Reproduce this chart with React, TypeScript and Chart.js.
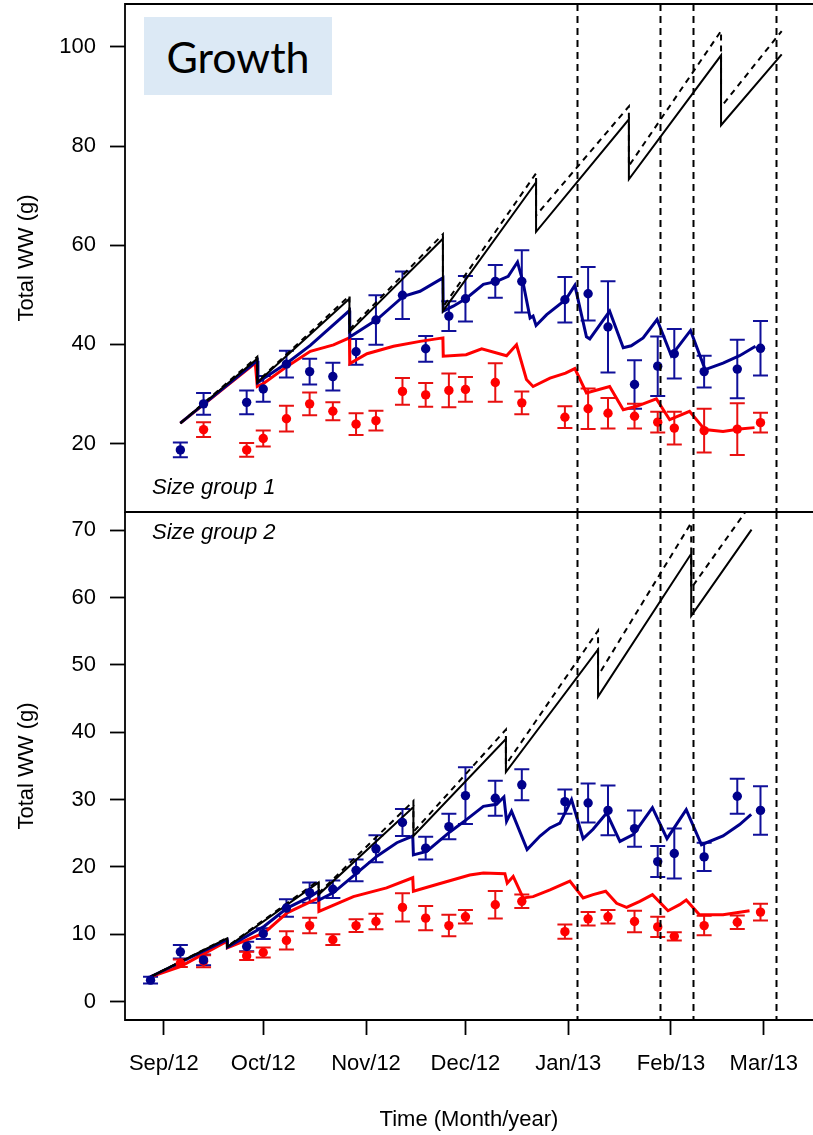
import React, { useEffect, useRef } from "react";
import { Chart, registerables } from "chart.js";
Chart.register(...registerables);

// ---------- axes ----------
const tickDays = [0, 30, 61, 91, 122, 153, 181]; // days since 1 Sep 2012
const tickLabels = ["Sep/12", "Oct/12", "Nov/12", "Dec/12", "Jan/13", "Feb/13", "Mar/13"];
const vlineDays = [124.5, 149.6, 159.6, 184.6];
const yTicks1 = [20, 40, 60, 80, 100];
const yTicks2 = [0, 10, 20, 30, 40, 50, 60, 70];

// ---------- Size group 1 observations ----------
const obsDays1 = [5, 12, 25, 30, 37, 44, 51, 58, 64, 72, 79, 86, 91, 100, 108, 121, 128, 134, 142, 149, 154, 163, 173, 180];
const blue1 = [18.7, 28.0, 28.3, 31.0, 36.0, 34.5, 33.5, 38.5, 44.9, 49.9, 39.1, 45.7, 49.2, 52.7, 52.7, 49.0, 50.2, 43.5, 31.9, 35.6, 38.1, 34.5, 35.0, 39.2];
const blue1Err = [1.5, 2.2, 2.4, 2.6, 2.7, 2.6, 2.8, 2.6, 5.0, 4.8, 2.6, 3.0, 4.6, 3.3, 6.3, 4.6, 5.4, 9.2, 4.9, 6.0, 5.0, 3.2, 5.9, 5.5];
const red1 = [null, 22.8, 18.7, 21.0, 25.0, 28.0, 26.5, 23.9, 24.6, 30.5, 29.8, 30.7, 30.9, 32.3, 28.2, 25.3, 27.0, 26.1, 25.5, 24.3, 23.1, 22.6, 22.9, 24.2];
const red1Err = [null, 1.5, 1.4, 1.6, 2.6, 2.3, 1.8, 2.2, 2.0, 2.7, 2.4, 3.4, 2.5, 3.9, 2.3, 2.2, 4.1, 3.1, 2.5, 2.1, 3.3, 4.4, 5.2, 2.0];

// ---------- Size group 1 model lines ----------
const black1Days = [5, 28.2, 28.2, 56, 56, 84.2, 84.2, 112.3, 112.3, 140.3, 140.3, 168.1, 168.1, 186.4];
const black1Vals = [24.1, 37.1, 32.3, 49.2, 42.5, 61.3, 46.7, 72.7, 62.7, 85.4, 73.3, 98.3, 84.2, 98.5];
const blackDash1Vals = [24.1, 37.5, 32.5, 49.8, 43.0, 62.2, 47.5, 74.5, 66.0, 88.0, 76.0, 103.2, 87.9, 103.2];
const blueLine1Days = [5, 28.2, 28.4, 30.3, 37.3, 44.2, 56, 56.1, 64.3, 72.3, 77.3, 84.2, 84.3, 87.3, 91.3, 96.4, 100.4, 103.9, 106.7, 108.3, 110.5, 111.4, 112.3, 115.5, 121.2, 124, 127.5, 128.5, 134.5, 138.6, 141, 144.6, 148.8, 153.1, 158.9, 163.3, 168.7, 173.7, 178.5];
const blueLine1Vals = [24.1, 36.7, 32.3, 33.2, 36.3, 39.8, 46.8, 41.5, 45.0, 49.7, 50.7, 53.4, 46.7, 47.7, 49.3, 52.1, 52.7, 53.7, 56.6, 52.7, 45.3, 45.7, 43.8, 46.0, 49.0, 51.9, 41.5, 41.1, 46.7, 39.3, 39.7, 41.3, 45.0, 37.7, 42.8, 34.9, 36.2, 37.7, 39.6];
const redLine1Days = [5, 27.6, 28.2, 30.3, 37.3, 44.2, 51.2, 56, 56.1, 61.3, 69.3, 77.3, 84.2, 84.3, 91.2, 95.9, 103.4, 106.4, 109.4, 111.4, 116.5, 121.2, 124, 127.5, 134.5, 138.6, 142.6, 148.6, 152.6, 158.6, 163.2, 168.7, 173.7, 178.2];
const redLine1Vals = [24.1, 36.2, 31.5, 32.2, 35.6, 38.6, 39.9, 41.3, 36.1, 38.1, 39.6, 40.6, 41.3, 37.6, 37.9, 39.1, 37.7, 39.9, 32.9, 31.5, 33.2, 34.2, 35.1, 30.2, 31.5, 26.8, 27.5, 29.0, 24.8, 26.5, 22.8, 22.4, 22.9, 23.2];

// ---------- Size group 2 observations ----------
const obsDays2 = [-4, 5, 12, 25, 30, 37, 44, 51, 58, 64, 72, 79, 86, 91, 100, 108, 121, 128, 134, 142, 149, 154, 163, 173, 180];
const blue2 = [3.2, 7.4, 6.2, 8.2, 10.1, 13.9, 16.2, 16.7, 19.5, 22.7, 26.6, 22.8, 26.0, 30.6, 30.2, 32.2, 29.7, 29.5, 28.4, 25.7, 20.8, 22.0, 21.5, 30.5, 28.4];
const blue2Err = [0.5, 1.0, 0.8, 0.7, 0.8, 1.3, 1.5, 1.3, 1.6, 2.0, 2.0, 1.7, 1.9, 4.2, 2.6, 2.3, 1.8, 2.9, 3.7, 2.7, 2.3, 3.7, 2.1, 2.6, 3.6];
const red2 = [null, 5.7, 6.0, 6.8, 7.3, 9.1, 11.3, 9.2, 11.3, 11.9, 14.0, 12.4, 11.3, 12.6, 14.4, 14.9, 10.4, 12.3, 12.6, 11.9, 11.1, 9.7, 11.3, 11.8, 13.3];
const red2Err = [null, 0.55, 0.9, 0.6, 0.75, 1.35, 1.15, 0.8, 0.95, 1.15, 2.1, 1.8, 1.6, 1.0, 2.05, 1.0, 1.05, 1.0, 1.0, 1.6, 1.5, 0.6, 1.45, 1.0, 1.25];

// ---------- Size group 2 model lines ----------
const black2Days = [-4, 19.1, 19.1, 46.7, 46.7, 75.3, 75.3, 103.2, 103.2, 131, 131, 159.1, 159.1, 177.3];
const black2Vals = [3.7, 9.4, 8.1, 17.7, 15.9, 28.9, 24.6, 39.0, 34.1, 52.3, 45.3, 66.5, 57.3, 70.1];
const blackDash2Vals = [3.7, 9.5, 8.2, 18.0, 16.1, 29.8, 25.2, 40.4, 35.2, 55.1, 48.4, 71.1, 61.4, 74.0];
const blueLine2Days = [-4, 19.1, 19.2, 30.3, 37.2, 44.2, 46.7, 46.8, 51.2, 58.2, 64.3, 70.3, 75.1, 75.3, 79.3, 86.3, 91.2, 96.4, 100.4, 102.6, 103.4, 104.9, 109.6, 113.5, 116.5, 119.5, 122, 123, 126.5, 129.5, 133.6, 137.6, 141.6, 147.4, 151.8, 157.6, 162.2, 168.7, 173.7, 177.2];
const blueLine2Vals = [3.7, 9.2, 8.1, 11.2, 13.9, 15.6, 16.4, 15.1, 16.2, 19.1, 21.6, 23.6, 24.6, 21.8, 22.3, 25.2, 27.0, 29.0, 29.3, 30.4, 26.8, 28.3, 22.6, 24.6, 25.8, 26.5, 29.0, 30.0, 24.2, 25.6, 28.0, 23.8, 24.8, 28.8, 24.2, 28.5, 23.3, 24.6, 26.3, 27.8];
const redLine2Days = [-4, 5, 19.1, 19.2, 30.3, 37.2, 46.7, 46.8, 57.2, 67.2, 75.1, 75.3, 82.3, 92.3, 96.4, 102.9, 103.6, 105.4, 108.4, 111.4, 116.5, 122.5, 126.5, 129.5, 133.3, 136.6, 139.6, 143.6, 147.4, 152.1, 155.6, 157.6, 161.6, 168.7, 176.7];
const redLine2Vals = [3.7, 5.2, 9.0, 8.0, 10.2, 13.2, 15.4, 13.4, 15.6, 16.9, 18.4, 16.4, 17.4, 18.8, 19.1, 19.0, 17.6, 18.6, 15.4, 15.6, 16.6, 17.9, 15.4, 15.9, 16.4, 14.6, 14.0, 14.9, 15.9, 13.5, 14.4, 15.1, 12.9, 12.9, 13.5];

// ---------- styling ----------
const X_MIN = -11.7;
const X_MAX = 195.84;
const BLUE = "#00008B";
const RED = "#FF0000";
const FONT = { family: "'Liberation Sans', Arial, Helvetica, sans-serif", size: 22 };
const CLIP = { left: 10, top: 0, right: -10, bottom: 0 };

const zip = (xs: number[], ys: (number | null)[]) => xs.map((x, i) => ({ x, y: ys[i] }));

const errorBarPlugin = {
  id: "errorBars",
  beforeDatasetsDraw(chart: any) {
    const ctx = chart.ctx;
    const xs = chart.scales.x;
    const ys = chart.scales.y;
    chart.data.datasets.forEach((ds: any) => {
      if (!ds.errors) return;
      ctx.save();
      ctx.strokeStyle = ds.errorColor;
      ctx.lineWidth = 2;
      ds.data.forEach((p: any, i: number) => {
        const e = ds.errors[i];
        if (p.y == null || e == null) return;
        const px = xs.getPixelForValue(p.x);
        const yt = ys.getPixelForValue(p.y + e);
        const yb = ys.getPixelForValue(p.y - e);
        ctx.beginPath();
        ctx.moveTo(px, yt);
        ctx.lineTo(px, yb);
        ctx.moveTo(px - 7.5, yt);
        ctx.lineTo(px + 7.5, yt);
        ctx.moveTo(px - 7.5, yb);
        ctx.lineTo(px + 7.5, yb);
        ctx.stroke();
      });
      ctx.restore();
    });
  },
};

const frameAndVlines = {
  id: "frameVlines",
  afterDatasetsDraw(chart: any) {
    const ctx = chart.ctx;
    const { left, right, top, bottom } = chart.chartArea;
    const xs = chart.scales.x;
    ctx.save();
    ctx.strokeStyle = "#000";
    ctx.lineWidth = 2;
    ctx.setLineDash([7, 5]);
    vlineDays.forEach((d) => {
      const px = Math.round(xs.getPixelForValue(d)) + 0.5;
      ctx.beginPath();
      ctx.moveTo(px, top);
      ctx.lineTo(px, bottom);
      ctx.stroke();
    });
    ctx.setLineDash([]);
    ctx.lineWidth = 1.8;
    ctx.beginPath();
    ctx.moveTo(right, top);
    ctx.lineTo(left, top);
    ctx.lineTo(left, bottom);
    ctx.lineTo(right, bottom);
    ctx.stroke();
    ctx.restore();
  },
};

const noPad = (s: any) => {
  s.paddingTop = 0;
  s.paddingBottom = 0;
  s.paddingLeft = 0;
  s.paddingRight = 0;
};

function buildConfig(panel: 1 | 2): any {
  const g1 = panel === 1;
  const days = g1 ? obsDays1 : obsDays2;
  const bMean = g1 ? blue1 : blue2;
  const bErr = g1 ? blue1Err : blue2Err;
  const rMean = g1 ? red1 : red2;
  const rErr = g1 ? red1Err : red2Err;
  const blkDays = g1 ? black1Days : black2Days;
  const blk = g1 ? black1Vals : black2Vals;
  const blkDash = g1 ? blackDash1Vals : blackDash2Vals;
  const blDays = g1 ? blueLine1Days : blueLine2Days;
  const bl = g1 ? blueLine1Vals : blueLine2Vals;
  const rlDays = g1 ? redLine1Days : redLine2Days;
  const rl = g1 ? redLine1Vals : redLine2Vals;
  const yTicks = g1 ? yTicks1 : yTicks2;

  const lineDs = (data: any, color: string, width: number, order: number, dash: number[] = []) => ({
    type: "line",
    data,
    borderColor: color,
    borderWidth: width,
    borderDash: dash,
    pointRadius: 0,
    tension: 0,
    fill: false,
    clip: CLIP,
    order,
  });
  const pointDs = (data: any, color: string, errors: any, errColor: string) => ({
    type: "line",
    data,
    showLine: false,
    pointRadius: 4.7,
    pointBackgroundColor: color,
    pointBorderWidth: 0,
    borderColor: color,
    clip: CLIP,
    errors,
    errorColor: errColor,
    order: 0,
  });

  return {
    type: "line",
    data: {
      datasets: [
        pointDs(zip(days, bMean), BLUE, bErr, "#10109A"),
        pointDs(zip(days, rMean), RED, rErr, "#E81010"),
        lineDs(zip(blkDays, blkDash), "#000", 2, 1, [6, 5]),
        lineDs(zip(blkDays, blk), "#000", 2, 2),
        lineDs(zip(blDays, bl), BLUE, 3, 3),
        lineDs(zip(rlDays, rl), RED, 3, 4),
      ],
    },
    options: {
      animation: false,
      responsive: false,
      maintainAspectRatio: false,
      devicePixelRatio: 1,
      events: [],
      layout: {
        autoPadding: false,
        padding: g1 ? { top: 4, right: 0, bottom: 2, left: 0 } : { top: 0, right: 0, bottom: 0, left: 0 },
      },
      plugins: { legend: { display: false }, tooltip: { enabled: false }, title: { display: false } },
      scales: {
        x: {
          type: "linear",
          min: X_MIN,
          max: X_MAX,
          display: !g1,
          afterBuildTicks: (s: any) => {
            s.ticks = tickDays.map((v) => ({ value: v }));
          },
          afterFit: (s: any) => {
            s.height = g1 ? 0 : 115;
            noPad(s);
          },
          grid: { drawOnChartArea: false, drawTicks: true, tickLength: 15, tickWidth: 1.8, tickColor: "#000" },
          border: { display: false },
          ticks: {
            color: "#000",
            font: FONT,
            padding: 16,
            autoSkip: false,
            maxRotation: 0,
            callback: (v: any) => {
              const i = tickDays.indexOf(v);
              return i >= 0 ? tickLabels[i] : "";
            },
          },
          title: { display: true, text: "Time (Month/year)", color: "#000", font: FONT, padding: { top: 0, bottom: 2 } },
        },
        y: {
          type: "linear",
          min: g1 ? 6.18 : -2.72,
          max: g1 ? 108.65 : 72.71,
          afterBuildTicks: (s: any) => {
            s.ticks = yTicks.map((v) => ({ value: v }));
          },
          afterFit: (s: any) => {
            s.width = 125;
            noPad(s);
          },
          grid: { drawOnChartArea: false, drawTicks: true, tickLength: 15, tickWidth: 1.8, tickColor: "#000" },
          border: { display: false },
          ticks: { color: "#000", font: FONT, padding: 14 },
          title: { display: true, text: "Total WW (g)", color: "#000", font: FONT, padding: { top: 13.5, bottom: 0 } },
        },
      },
    },
    plugins: [errorBarPlugin, frameAndVlines],
  };
}

export default function App() {
  const c1 = useRef<HTMLCanvasElement>(null);
  const c2 = useRef<HTMLCanvasElement>(null);
  useEffect(() => {
    const ch1 = new Chart(c1.current as HTMLCanvasElement, buildConfig(1));
    const ch2 = new Chart(c2.current as HTMLCanvasElement, buildConfig(2));
    return () => {
      ch1.destroy();
      ch2.destroy();
    };
  }, []);
  const labelStyle: React.CSSProperties = {
    position: "absolute",
    left: 152,
    fontFamily: "'Liberation Sans', Arial, Helvetica, sans-serif",
    fontStyle: "italic",
    fontSize: 22,
    lineHeight: "22px",
    color: "#000",
    whiteSpace: "nowrap",
  };
  const cover: React.CSSProperties = { position: "absolute", left: 792, width: 21, background: "#fff" };
  return (
    <div style={{ position: "absolute", left: 0, top: 0, width: 813, height: 1135, overflow: "hidden", background: "#fff" }}>
      <canvas ref={c1} width={813} height={514} style={{ position: "absolute", left: 0, top: 0, width: 813, height: 514 }} />
      <canvas ref={c2} width={813} height={623} style={{ position: "absolute", left: 0, top: 512, width: 813, height: 623 }} />
      <div style={{ ...cover, top: 6, height: 504 }} />
      <div style={{ ...cover, top: 514, height: 504 }} />
      <div
        style={{
          position: "absolute",
          left: 144,
          top: 17,
          width: 188,
          height: 78,
          background: "#DCE9F5",
          display: "flex",
          alignItems: "center",
          justifyContent: "center",
          fontFamily: "Lato, 'Open Sans', sans-serif",
          fontSize: 43,
          lineHeight: "43px",
          color: "#000",
        }}
      >
        Growth
      </div>
      <div style={{ ...labelStyle, top: 476 }}>Size group 1</div>
      <div style={{ ...labelStyle, top: 521 }}>Size group 2</div>
    </div>
  );
}
